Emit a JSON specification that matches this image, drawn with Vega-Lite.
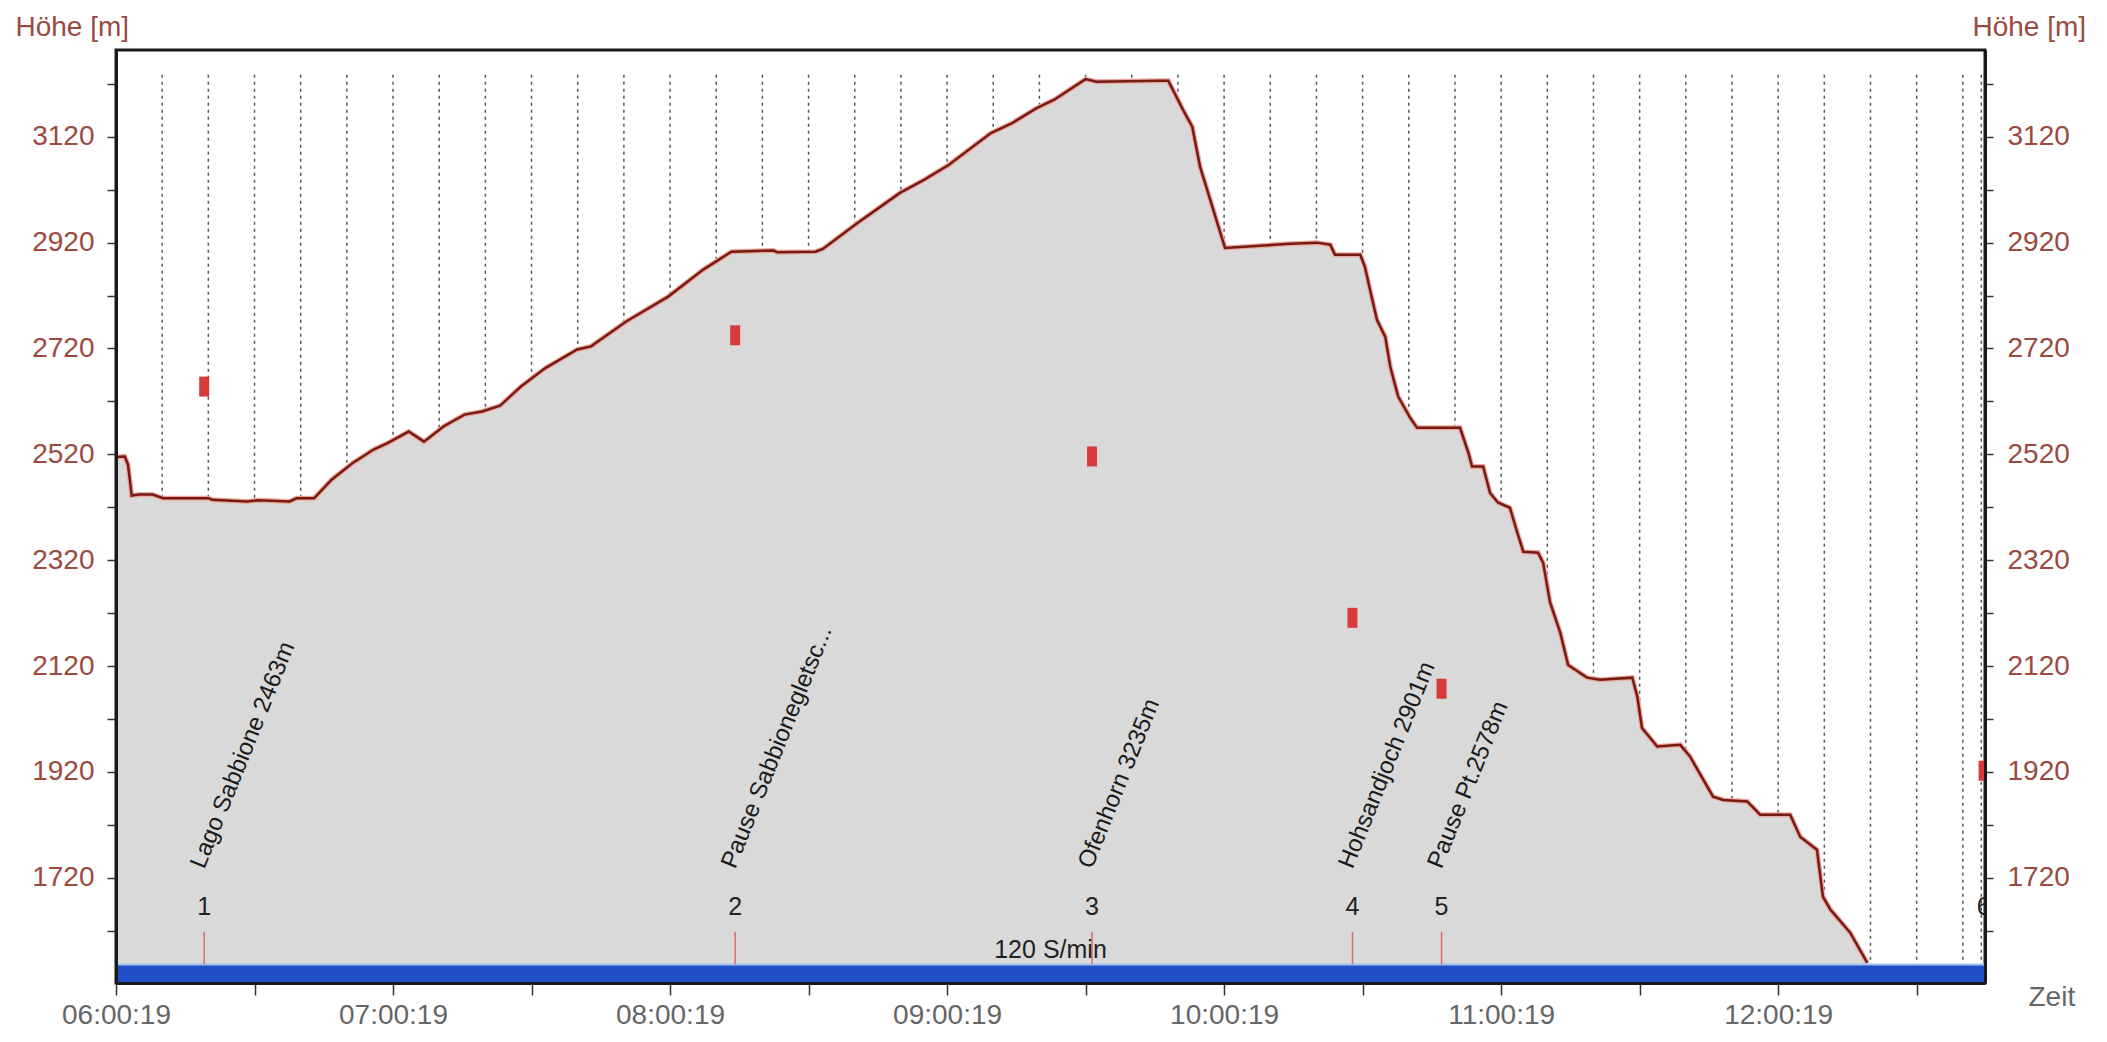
{
  "$schema": "https://vega.github.io/schema/vega-lite/v6.json",
  "width": 1869,
  "height": 933,
  "autosize": {"type": "none"},
  "padding": {"left": 116, "top": 50, "right": 122, "bottom": 59},
  "background": "white",
  "config": {
    "font": "Liberation Sans",
    "view": {"stroke": "#1a1a1a", "strokeWidth": 3}
  },
  "datasets": {
    "profile": [
      {"t": 0, "e": 2515}, {"t": 1.9, "e": 2516}, {"t": 2.6, "e": 2500}, {"t": 3.4, "e": 2442},
      {"t": 5.0, "e": 2444}, {"t": 7.9, "e": 2444}, {"t": 10.2, "e": 2437}, {"t": 20.1, "e": 2437},
      {"t": 20.8, "e": 2434}, {"t": 28.4, "e": 2431}, {"t": 30.7, "e": 2433}, {"t": 37.6, "e": 2431},
      {"t": 39.1, "e": 2437}, {"t": 42.9, "e": 2437}, {"t": 46.7, "e": 2472}, {"t": 51.2, "e": 2503},
      {"t": 55.8, "e": 2529}, {"t": 58.8, "e": 2541}, {"t": 63.4, "e": 2563}, {"t": 66.7, "e": 2544},
      {"t": 71.0, "e": 2573}, {"t": 75.5, "e": 2595}, {"t": 79.3, "e": 2601}, {"t": 83.2, "e": 2612},
      {"t": 87.7, "e": 2648}, {"t": 93.0, "e": 2683}, {"t": 99.9, "e": 2718}, {"t": 102.9, "e": 2724},
      {"t": 110.5, "e": 2771}, {"t": 119.6, "e": 2818}, {"t": 127.2, "e": 2869}, {"t": 133.3, "e": 2903},
      {"t": 142.4, "e": 2905}, {"t": 143.2, "e": 2902}, {"t": 151.5, "e": 2903}, {"t": 153.1, "e": 2908},
      {"t": 160.6, "e": 2957}, {"t": 169.8, "e": 3014}, {"t": 175.1, "e": 3039}, {"t": 180.4, "e": 3067},
      {"t": 189.5, "e": 3127}, {"t": 194.1, "e": 3146}, {"t": 199.4, "e": 3174}, {"t": 203.2, "e": 3190},
      {"t": 210.0, "e": 3229}, {"t": 212.3, "e": 3224}, {"t": 226.0, "e": 3226}, {"t": 227.9, "e": 3226},
      {"t": 231.1, "e": 3171}, {"t": 233.1, "e": 3139}, {"t": 234.8, "e": 3063}, {"t": 237.0, "e": 3001},
      {"t": 238.5, "e": 2958}, {"t": 240.2, "e": 2910}, {"t": 247.8, "e": 2914}, {"t": 254.3, "e": 2918},
      {"t": 260.1, "e": 2920}, {"t": 263.0, "e": 2916}, {"t": 264.0, "e": 2897}, {"t": 269.5, "e": 2897},
      {"t": 270.5, "e": 2874}, {"t": 271.6, "e": 2831}, {"t": 273.1, "e": 2774}, {"t": 274.9, "e": 2742},
      {"t": 276.0, "e": 2685}, {"t": 277.7, "e": 2629}, {"t": 280.3, "e": 2589}, {"t": 281.8, "e": 2570},
      {"t": 291.1, "e": 2570}, {"t": 292.9, "e": 2523}, {"t": 293.7, "e": 2497}, {"t": 296.1, "e": 2497},
      {"t": 297.6, "e": 2447}, {"t": 299.3, "e": 2429}, {"t": 301.9, "e": 2419}, {"t": 303.5, "e": 2372},
      {"t": 304.8, "e": 2336}, {"t": 308.0, "e": 2334}, {"t": 309.1, "e": 2315}, {"t": 310.6, "e": 2240},
      {"t": 312.8, "e": 2183}, {"t": 314.5, "e": 2122}, {"t": 318.6, "e": 2098}, {"t": 321.4, "e": 2094},
      {"t": 328.4, "e": 2098}, {"t": 329.5, "e": 2062}, {"t": 330.5, "e": 2003}, {"t": 333.8, "e": 1968},
      {"t": 338.8, "e": 1971}, {"t": 340.9, "e": 1949}, {"t": 345.9, "e": 1873}, {"t": 348.1, "e": 1867},
      {"t": 353.3, "e": 1864}, {"t": 356.1, "e": 1839}, {"t": 362.6, "e": 1839}, {"t": 364.8, "e": 1797},
      {"t": 368.4, "e": 1773}, {"t": 369.7, "e": 1684}, {"t": 371.3, "e": 1660}, {"t": 375.6, "e": 1616},
      {"t": 379.3, "e": 1559}
    ],
    "waypoints": [
      {"n": "1", "t": 19.1, "name": "Lago Sabbione 2463m", "sq": 2648},
      {"n": "2", "t": 134.1, "name": "Pause Sabbionegletsc...", "sq": 2745},
      {"n": "3", "t": 211.4, "name": "Ofenhorn 3235m", "sq": 2516},
      {"n": "4", "t": 267.8, "name": "Hohsandjoch 2901m", "sq": 2211},
      {"n": "5", "t": 287.1, "name": "Pause Pt.2578m", "sq": 2077},
      {"n": "6", "t": 404.5, "name": "", "sq": 1922}
    ],
    "grid": [
      {"t": 10}, {"t": 20}, {"t": 30}, {"t": 40}, {"t": 50}, {"t": 60}, {"t": 70}, {"t": 80},
      {"t": 90}, {"t": 100}, {"t": 110}, {"t": 120}, {"t": 130}, {"t": 140}, {"t": 150}, {"t": 160},
      {"t": 170}, {"t": 180}, {"t": 190}, {"t": 200}, {"t": 210}, {"t": 220}, {"t": 230}, {"t": 240},
      {"t": 250}, {"t": 260}, {"t": 270}, {"t": 280}, {"t": 290}, {"t": 300}, {"t": 310}, {"t": 320},
      {"t": 330}, {"t": 340}, {"t": 350}, {"t": 360}, {"t": 370}, {"t": 380}, {"t": 390}, {"t": 400},
      {"t": 404}
    ],
    "band": [{"rate": "120 S/min", "t": 0, "end": 404.8}]
  },
  "encoding": {
    "x": {
      "field": "t", "type": "quantitative",
      "scale": {"domain": [0, 404.8], "nice": false, "zero": false},
      "axis": {
        "values": [0, 30, 60, 90, 120, 150, 180, 210, 240, 270, 300, 330, 360, 390],
        "labelExpr": "datum.value % 60 == 0 ? ((6 + datum.value / 60) < 10 ? '0' : '') + (6 + datum.value / 60) + ':00:19' : ''",
        "labelFlush": false, "labelOverlap": false,
        "labelFontSize": 28, "labelColor": "#666666", "labelPadding": 6,
        "tickSize": 12, "tickColor": "#333333", "tickWidth": 1.5,
        "domainColor": "#1a1a1a", "domainWidth": 3, "grid": false,
        "title": "Zeit", "titleX": 1912, "titleY": 14, "titleAlign": "left", "titleBaseline": "middle",
        "titleFontSize": 28, "titleFontWeight": "normal", "titleColor": "#666666",
        "zindex": 1
      }
    }
  },
  "layer": [
    {
      "data": {"name": "grid"},
      "mark": {"type": "rule", "color": "#555555", "strokeWidth": 1.5, "strokeDash": [3, 4]},
      "encoding": {
        "y": {"datum": 3237, "type": "quantitative", "scale": {"domain": [1521, 3284], "nice": false, "zero": false}, "axis": null},
        "y2": {"datum": 1556}
      }
    },
    {
      "data": {"name": "profile"},
      "mark": {"type": "area", "color": "#d9d9d9"},
      "encoding": {
        "y": {
          "field": "e", "type": "quantitative",
          "scale": {"domain": [1521, 3284], "nice": false, "zero": false},
          "axis": {
            "orient": "left",
            "values": [1620, 1720, 1820, 1920, 2020, 2120, 2220, 2320, 2420, 2520, 2620, 2720, 2820, 2920, 3020, 3120, 3220],
            "format": "d",
            "labelExpr": "datum.value % 200 == 120 ? datum.label : ''",
            "labelOverlap": false,
            "labelFontSize": 28, "labelColor": "#9a4a40", "labelPadding": 13,
            "tickSize": 9, "tickColor": "#333333", "tickWidth": 1.5,
            "domainColor": "#1a1a1a", "domainWidth": 3, "grid": false,
            "title": "Höhe [m]", "titleAngle": 0, "titleAlign": "left", "titleBaseline": "alphabetic",
            "titleX": -101, "titleY": -15,
            "titleFontSize": 28, "titleFontWeight": "normal", "titleColor": "#9a4a40",
            "zindex": 1
          }
        },
        "y2": {"datum": 1521}
      }
    },
    {
      "data": {"name": "profile"},
      "mark": {"type": "line", "color": "#eba99d", "strokeWidth": 5},
      "encoding": {
        "y": {"field": "e", "type": "quantitative", "axis": null}
      }
    },
    {
      "data": {"name": "profile"},
      "mark": {"type": "line", "color": "#761a14", "strokeWidth": 2.5},
      "encoding": {
        "y": {
          "field": "e", "type": "quantitative",
          "scale": {"domain": [1521, 3284], "nice": false, "zero": false},
          "axis": {
            "orient": "right",
            "values": [1620, 1720, 1820, 1920, 2020, 2120, 2220, 2320, 2420, 2520, 2620, 2720, 2820, 2920, 3020, 3120, 3220],
            "format": "d",
            "labelExpr": "datum.value % 200 == 120 ? datum.label : ''",
            "labelOverlap": false,
            "labelFontSize": 28, "labelColor": "#9a4a40", "labelPadding": 14,
            "tickSize": 8, "tickColor": "#333333", "tickWidth": 1.5,
            "domainColor": "#1a1a1a", "domainWidth": 3, "grid": false,
            "title": "Höhe [m]", "titleAngle": 0, "titleAlign": "left", "titleBaseline": "alphabetic",
            "titleX": -13, "titleY": -15,
            "titleFontSize": 28, "titleFontWeight": "normal", "titleColor": "#9a4a40",
            "zindex": 1
          }
        }
      }
    },
    {
      "data": {"name": "band"},
      "mark": {"type": "rect", "color": "#2150c6"},
      "encoding": {
        "x2": {"field": "end"},
        "y": {"datum": 1521, "type": "quantitative", "axis": null},
        "y2": {"datum": 1556}
      }
    },
    {
      "data": {"name": "band"},
      "mark": {"type": "rule", "color": "#a4c3ef", "strokeWidth": 2},
      "encoding": {
        "x2": {"field": "end"},
        "y": {"datum": 1556, "type": "quantitative", "axis": null}
      }
    },
    {
      "data": {"name": "waypoints"},
      "transform": [{"filter": "datum.t < 400"}],
      "mark": {"type": "rule", "color": "#e06a6a", "strokeWidth": 1.5},
      "encoding": {
        "y": {"datum": 1556, "type": "quantitative", "axis": null},
        "y2": {"datum": 1618}
      }
    },
    {
      "data": {"name": "waypoints"},
      "mark": {"type": "tick", "orient": "vertical", "color": "#d93a3a", "thickness": 10, "size": 20, "opacity": 1, "clip": true},
      "encoding": {
        "y": {"field": "sq", "type": "quantitative", "axis": null}
      }
    },
    {
      "data": {"name": "waypoints"},
      "mark": {"type": "text", "fontSize": 25, "color": "#222222", "align": "center", "baseline": "middle", "clip": true},
      "encoding": {
        "y": {"datum": 1665, "type": "quantitative", "axis": null},
        "text": {"field": "n"}
      }
    },
    {
      "data": {"name": "waypoints"},
      "mark": {"type": "text", "fontSize": 24, "color": "#1a1a1a", "align": "left", "baseline": "alphabetic", "angle": -68},
      "encoding": {
        "y": {"datum": 1735, "type": "quantitative", "axis": null},
        "text": {"field": "name"}
      }
    },
    {
      "data": {"name": "band"},
      "transform": [{"calculate": "(datum.t + datum.end) / 2", "as": "t"}],
      "mark": {"type": "text", "fontSize": 25, "color": "#222222", "align": "center", "baseline": "middle"},
      "encoding": {
        "y": {"datum": 1584, "type": "quantitative", "axis": null},
        "text": {"field": "rate"}
      }
    }
  ],
  "resolve": {"axis": {"x": "shared", "y": "independent"}}
}
